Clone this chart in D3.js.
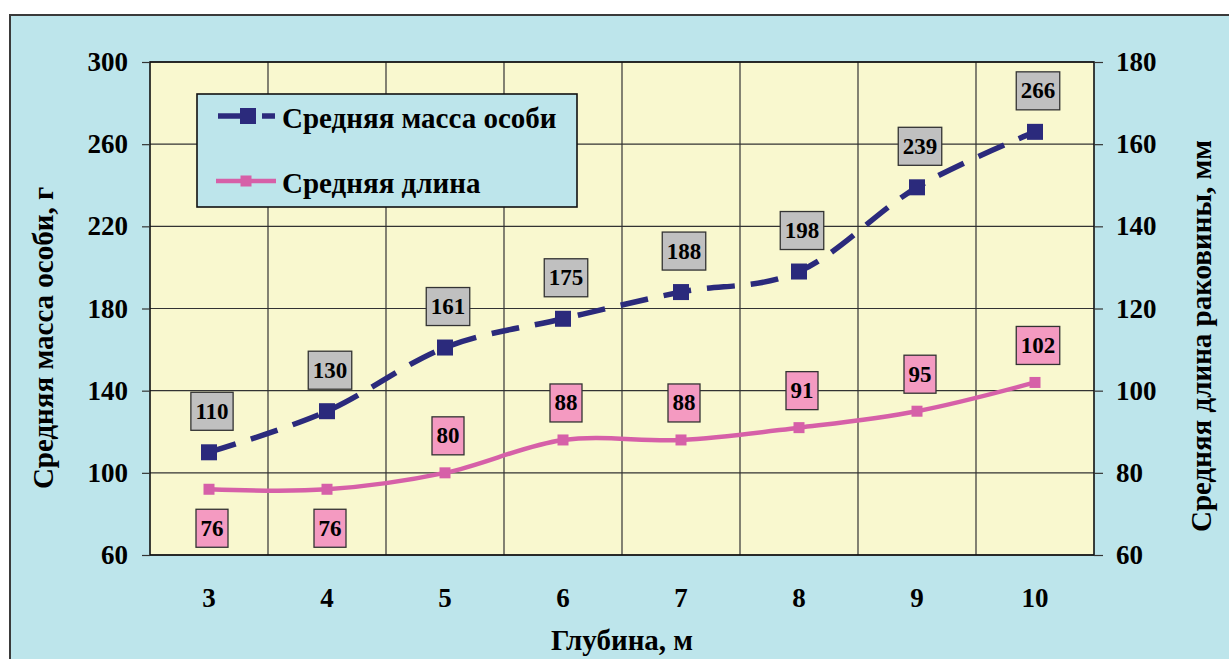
<!DOCTYPE html>
<html>
<head>
<meta charset="utf-8">
<script src="https://cdn.jsdelivr.net/npm/d3@7"></script>
<style>
  html, body { margin: 0; padding: 0; background: #ffffff; }
  svg { display: block; }
  text { font-family: "Liberation Serif", "Times New Roman", serif; font-weight: bold; fill: #000; }
</style>
</head>
<body>
<script>
// Depth categories, metres
const depths = ["3", "4", "5", "6", "7", "8", "9", "10"];
// Mean individual mass, g (left axis)
const massValues = [110, 130, 161, 175, 188, 198, 239, 266];
// Mean shell length, mm (right axis)
const lengthValues = [76, 76, 80, 88, 88, 91, 95, 102];
// Label placement for the length series
const lengthLabelSide = ["below", "below", "above", "above", "above", "above", "above", "above"];
// Axis ticks
const leftTicks = [60, 100, 140, 180, 220, 260, 300];
const rightTicks = [60, 80, 100, 120, 140, 160, 180];

const massName = "Средняя масса особи";
const lengthName = "Средняя длина";
const xTitle = "Глубина, м";
const leftTitle = "Средняя масса особи, г";
const rightTitle = "Средняя длина раковины, мм";

const W = 1229, H = 659;
const plot = { left: 150, top: 62, right: 1094, bottom: 555 };

const svg = d3.select("body").append("svg").attr("width", W).attr("height", H);

// Outer chart panel
svg.append("rect").attr("x", 10).attr("y", 15).attr("width", W + 10).attr("height", H + 10)
  .attr("fill", "#bde5eb").attr("stroke", "#3a3a3a").attr("stroke-width", 2);

const x = d3.scaleBand().domain(depths).range([plot.left, plot.right]);
const cx = d => x(d) + x.bandwidth() / 2;
const yL = d3.scaleLinear().domain([60, 300]).range([plot.bottom, plot.top]);
const yR = d3.scaleLinear().domain([60, 180]).range([plot.bottom, plot.top]);

// Plot area
svg.append("rect").attr("x", plot.left).attr("y", plot.top)
  .attr("width", plot.right - plot.left).attr("height", plot.bottom - plot.top)
  .attr("fill", "#f9f8cf");

// Grid
const grid = svg.append("g").attr("stroke", "#333").attr("stroke-width", 1.2);
grid.selectAll("line.h").data(leftTicks).join("line")
  .attr("x1", plot.left).attr("x2", plot.right)
  .attr("y1", d => yL(d)).attr("y2", d => yL(d));
grid.selectAll("line.v").data(depths.slice(1)).join("line")
  .attr("x1", d => x(d)).attr("x2", d => x(d))
  .attr("y1", plot.top).attr("y2", plot.bottom);

// Plot frame
svg.append("rect").attr("x", plot.left).attr("y", plot.top)
  .attr("width", plot.right - plot.left).attr("height", plot.bottom - plot.top)
  .attr("fill", "none").attr("stroke", "#111").attr("stroke-width", 1.6);

// Axes
const axisFont = 27;
const leftAxis = svg.append("g").attr("transform", `translate(${plot.left},0)`)
  .call(d3.axisLeft(yL).tickValues(leftTicks).tickSize(8).tickPadding(14));
const rightAxis = svg.append("g").attr("transform", `translate(${plot.right},0)`)
  .call(d3.axisRight(yR).tickValues(rightTicks).tickSize(9).tickPadding(13));
const bottomAxis = svg.append("g").attr("transform", `translate(0,${plot.bottom})`)
  .call(d3.axisBottom(x).tickSize(0).tickPadding(33));
[leftAxis, rightAxis, bottomAxis].forEach(g => {
  g.select(".domain").remove();
  g.selectAll(".tick line").attr("stroke", "#333").attr("stroke-width", 1.2);
  g.selectAll(".tick text").attr("font-size", axisFont)
    .attr("font-family", "'Liberation Serif', serif").attr("font-weight", "bold").attr("fill", "#000");
});

// Axis titles
const titleFont = 29;
svg.append("text").attr("transform", "translate(43,338) rotate(-90)")
  .attr("text-anchor", "middle").attr("dominant-baseline", "central").attr("font-size", titleFont).text(leftTitle);
svg.append("text").attr("transform", "translate(1201,336) rotate(-90)")
  .attr("text-anchor", "middle").attr("dominant-baseline", "central").attr("font-size", titleFont).text(rightTitle);
svg.append("text").attr("x", (plot.left + plot.right) / 2).attr("y", 640)
  .attr("text-anchor", "middle").attr("dominant-baseline", "central").attr("font-size", titleFont).text(xTitle);

const navy = "#2b2a7c", pink = "#d660a8";
const curve = d3.curveCardinal.tension(0);

// Length series
const lenLine = d3.line().x((d, i) => cx(depths[i])).y(d => yR(d)).curve(curve);
svg.append("path").datum(lengthValues).attr("d", lenLine)
  .attr("fill", "none").attr("stroke", pink).attr("stroke-width", 4.5);
svg.selectAll("rect.lm").data(lengthValues).join("rect")
  .attr("x", (d, i) => cx(depths[i]) - 5.5).attr("y", d => yR(d) - 5.5)
  .attr("width", 11).attr("height", 11).attr("fill", pink);

// Mass series
const massLine = d3.line().x((d, i) => cx(depths[i])).y(d => yL(d)).curve(curve);
svg.append("path").datum(massValues).attr("d", massLine)
  .attr("fill", "none").attr("stroke", navy).attr("stroke-width", 5.5)
  .attr("stroke-dasharray", "28,16");
svg.selectAll("rect.mm").data(massValues).join("rect")
  .attr("x", (d, i) => cx(depths[i]) - 8).attr("y", d => yL(d) - 8)
  .attr("width", 16).attr("height", 16).attr("fill", navy);

// Value labels in boxes
function addLabel(px, py, value, fill) {
  const g = svg.append("g");
  const t = g.append("text").attr("x", px).attr("y", py)
    .attr("text-anchor", "middle").attr("dominant-baseline", "central")
    .attr("font-size", 23).text(value);
  const w = t.node().getComputedTextLength() + 9;
  g.insert("rect", "text").attr("x", px - w / 2).attr("y", py - 19)
    .attr("width", w).attr("height", 38).attr("fill", fill)
    .attr("stroke", "#333").attr("stroke-width", 1.3);
}
massValues.forEach((v, i) => addLabel(cx(depths[i]) + 3, yL(v) - 41, v, "#c0c0c0"));
lengthValues.forEach((v, i) => {
  const dy = lengthLabelSide[i] === "below" ? 39 : -37;
  addLabel(cx(depths[i]) + 3, yR(v) + dy, v, "#f49ac1");
});

// Legend
const legendFont = 29;
const lg = svg.append("g");
lg.append("rect").attr("x", 197).attr("y", 94).attr("width", 380).attr("height", 113)
  .attr("fill", "#bde5eb").attr("stroke", "#111").attr("stroke-width", 1.6);
lg.append("line").attr("x1", 218).attr("x2", 248).attr("y1", 116).attr("y2", 116)
  .attr("stroke", navy).attr("stroke-width", 5.5);
lg.append("line").attr("x1", 262).attr("x2", 275).attr("y1", 116).attr("y2", 116)
  .attr("stroke", navy).attr("stroke-width", 5.5);
lg.append("rect").attr("x", 240).attr("y", 108).attr("width", 16).attr("height", 16).attr("fill", navy);
lg.append("text").attr("x", 282).attr("y", 118).attr("dominant-baseline", "central")
  .attr("font-size", legendFont).text(massName);
lg.append("line").attr("x1", 216).attr("x2", 276).attr("y1", 181).attr("y2", 181)
  .attr("stroke", pink).attr("stroke-width", 4.5);
lg.append("rect").attr("x", 240.5).attr("y", 175.5).attr("width", 11).attr("height", 11).attr("fill", pink);
lg.append("text").attr("x", 282).attr("y", 183).attr("dominant-baseline", "central")
  .attr("font-size", legendFont).text(lengthName);
</script>
</body>
</html>
